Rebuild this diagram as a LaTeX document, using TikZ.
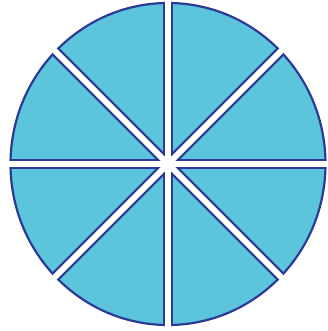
\documentclass[tikz,border=0pt]{standalone}
\usetikzlibrary{calc}
\definecolor{piefill}{RGB}{92,197,219}
\definecolor{pieedge}{RGB}{44,58,150}
\begin{document}
\begin{tikzpicture}[x=1pt,y=1pt,
  edgeline/.style={pieedge,line width=10.4pt},
  gapline/.style={white,line width=6pt}]
\useasboundingbox (0,0) rectangle (327,-331);
\fill[white] (0,0) rectangle (327,-331);
\coordinate (c) at (168,-164);
\fill[piefill,draw=pieedge,line width=2.2pt] (c) ellipse [x radius=157.5, y radius=161];
\begin{scope}
  \clip (c) ellipse [x radius=157.5, y radius=161];
  \foreach \a in {0,45,90,135} {
    \draw[edgeline] ($(c)+(\a:170)$) -- ($(c)+(\a+180:170)$);
  }
\end{scope}
\foreach \a in {0,45,90,135} {
  \draw[gapline] ($(c)+(\a:175)$) -- ($(c)+(\a+180:175)$);
}
\end{tikzpicture}
\end{document}
